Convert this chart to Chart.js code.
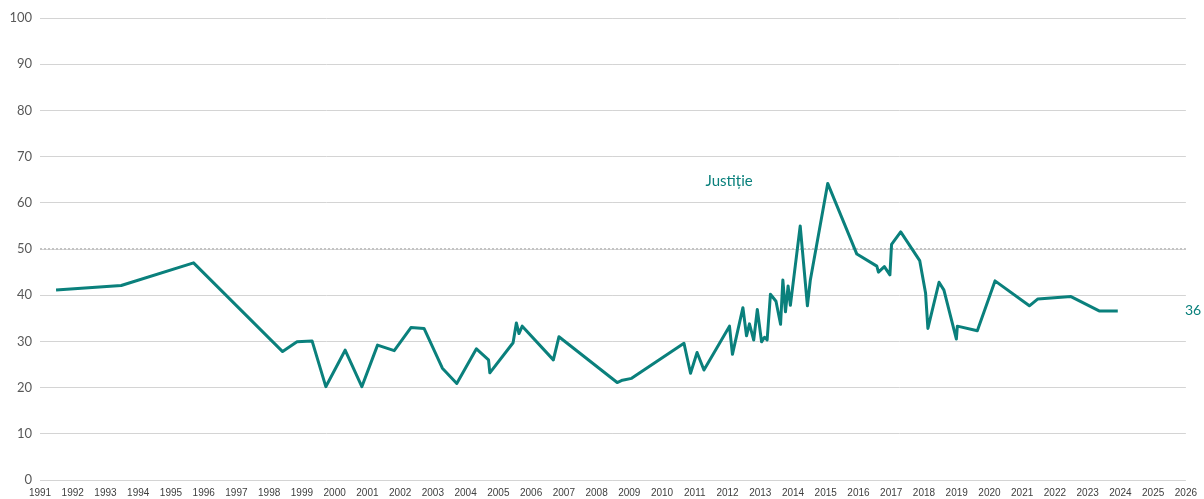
<!DOCTYPE html>
<html>
<head>
<meta charset="utf-8">
<script src="https://cdn.jsdelivr.net/npm/chart.js@4.4.1/dist/chart.umd.min.js"></script>
<style>
  html, body { margin: 0; padding: 0; background: #fff; }
  #wrap { width: 1204px; height: 499px; }
</style>
</head>
<body>
<div id="wrap"><canvas id="trustChart" width="1204" height="499"></canvas></div>
<script>
// values (decimal year, percent)
const seriesName = 'Justiție';
const endLabel = '36';
const dates = [
  1991.49, 1993.48, 1995.69, 1998.41, 1998.85, 1999.31, 1999.73, 2000.32, 2000.83,
  2001.31, 2001.82, 2002.33, 2002.73, 2003.29, 2003.73, 2004.33, 2004.70, 2004.74,
  2005.45, 2005.55, 2005.63, 2005.73, 2006.68, 2006.85, 2008.63, 2008.79, 2009.07,
  2010.67, 2010.87, 2011.07, 2011.28, 2012.06, 2012.15, 2012.47, 2012.58, 2012.67,
  2012.80, 2012.91, 2013.04, 2013.13, 2013.21, 2013.31, 2013.48, 2013.62, 2013.69,
  2013.77, 2013.85, 2013.92, 2014.22, 2014.44, 2014.53, 2015.06, 2015.95, 2016.56,
  2016.61, 2016.79, 2016.96, 2017.01, 2017.29, 2017.87, 2018.05, 2018.12, 2018.46,
  2018.61, 2018.99, 2019.02, 2019.63, 2020.17, 2021.22, 2021.48, 2022.49, 2023.35,
  2023.92
];
const values = [
  41.1, 42.1, 47.0, 27.8, 29.9, 30.1, 20.2, 28.1, 20.2,
  29.2, 28.0, 33.0, 32.8, 24.2, 20.9, 28.4, 26.0, 23.2,
  29.7, 34.0, 31.7, 33.3, 26.0, 31.0, 21.1, 21.6, 22.0,
  29.6, 23.1, 27.6, 23.8, 33.3, 27.2, 37.3, 31.2, 33.8,
  30.3, 36.9, 29.9, 30.9, 30.3, 40.2, 38.7, 33.7, 43.3,
  36.4, 42.0, 37.8, 55.0, 37.7, 43.3, 64.2, 48.9, 46.3,
  45.0, 46.2, 44.4, 51.0, 53.7, 47.5, 40.4, 32.8, 42.8,
  41.1, 30.5, 33.3, 32.3, 43.1, 37.7, 39.2, 39.7, 36.6,
  36.6
];
const yearMin = 1991;
const yearMax = 2026;
const refLevel = 50;
const labelPos = { x: 2012.05, y: 64.6 };

const teal = '#0a807c';

const labelsPlugin = {
  id: 'labels',
  afterDatasetsDraw(chart) {
    const { ctx, scales, chartArea } = chart;
    const x = scales.x, y = scales.y;
    ctx.save();
    ctx.fillStyle = teal;
    ctx.textBaseline = 'middle';
    ctx.font = '15px Lato';
    ctx.textAlign = 'center';
    ctx.fillText(seriesName, x.getPixelForValue(labelPos.x), y.getPixelForValue(labelPos.y));
    ctx.font = '14px Lato';
    ctx.textAlign = 'left';
    ctx.fillText(endLabel, chartArea.right - 1, y.getPixelForValue(values[values.length - 1]));
    ctx.restore();
  }
};

new Chart(document.getElementById('trustChart'), {
  type: 'line',
  data: {
    datasets: [
      {
        label: seriesName,
        data: dates.map((d, i) => ({ x: d, y: values[i] })),
        borderColor: teal,
        borderWidth: 3,
        borderJoinStyle: 'round',
        pointRadius: 0,
        tension: 0,
        order: 1
      },
      {
        label: 'ref',
        data: [{ x: yearMin, y: refLevel }, { x: yearMax, y: refLevel }],
        borderColor: '#c4c4c4',
        borderWidth: 2,
        borderDash: [2, 2],
        pointRadius: 0,
        order: 2
      }
    ]
  },
  options: {
    responsive: false,
    animation: false,
    layout: { padding: { top: 18, right: 17, left: 0, bottom: 0 } },
    plugins: {
      legend: { display: false },
      tooltip: { enabled: false }
    },
    scales: {
      x: {
        type: 'linear',
        min: yearMin,
        max: yearMax,
        grid: { display: false, drawTicks: false },
        border: { display: false },
        ticks: {
          stepSize: 1,
          autoSkip: false,
          maxRotation: 0,
          padding: 7,
          color: '#404040',
          font: { family: 'Liberation Sans', size: 10 },
          callback: v => String(v)
        },
        afterFit: s => { s.height = 19; }
      },
      y: {
        min: 0,
        max: 100,
        grid: { color: '#d4d4d4', lineWidth: 1, drawTicks: false },
        border: { display: false },
        ticks: {
          stepSize: 10,
          padding: 8,
          color: '#595959',
          font: { family: 'Lato', size: 13 }
        },
        afterFit: s => { s.width = 40; }
      }
    }
  },
  plugins: [labelsPlugin]
});
</script>
</body>
</html>
